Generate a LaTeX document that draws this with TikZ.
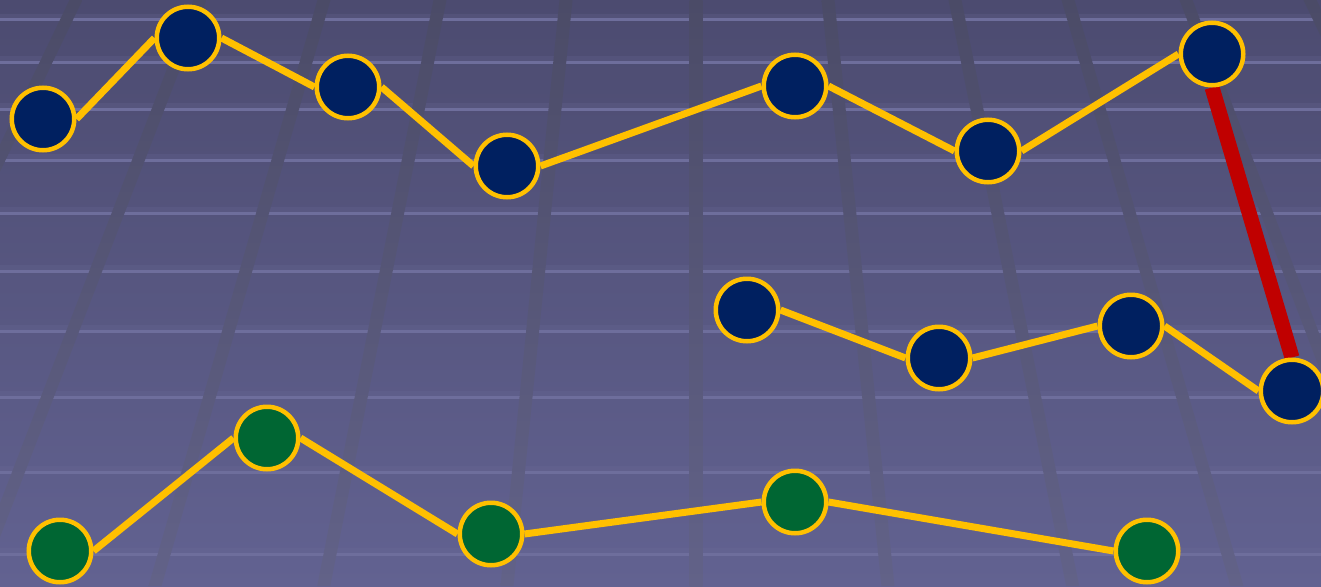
\documentclass[tikz,border=0pt]{standalone}
\usetikzlibrary{calc}
\pgfdeclarelayer{bg}
\pgfdeclarelayer{edges}
\pgfsetlayers{bg,edges,main}
\definecolor{bgT}{RGB}{76,75,112}
\definecolor{bgB}{RGB}{98,98,145}
\definecolor{diagT}{RGB}{75,75,103}
\definecolor{diagB}{RGB}{98,98,136}
\definecolor{hline}{RGB}{110,110,156}
\definecolor{dotblue}{RGB}{0,32,96}
\definecolor{dotgreen}{RGB}{0,102,51}
\definecolor{linkyellow}{RGB}{255,192,0}
\definecolor{linkred}{RGB}{192,0,0}
\tikzset{
  dotb/.style={circle, draw=linkyellow, line width=4.5pt, fill=dotblue, minimum size=62.5pt, inner sep=0pt},
  dotg/.style={circle, draw=linkyellow, line width=4.5pt, fill=dotgreen, minimum size=62.5pt, inner sep=0pt},
  ylink/.style={draw=linkyellow, line width=7pt},
  rlink/.style={draw=linkred, line width=15pt},
  gridh/.style={draw=hline, line width=3pt},
}
\begin{document}
\begin{tikzpicture}[x=1pt,y=-1pt]
\useasboundingbox (0,0) rectangle (1321,586);
\begin{pgfonlayer}{bg}
  \shade[top color=bgT, bottom color=bgB] (0,0) rectangle (1321,586);
  \foreach \yy in {20,62,109,160,213,271,331,397,472,554} {
    \fill[hline, opacity=0.2] (0,\yy-6) rectangle (1321,\yy);
    \draw[gridh] (0,\yy) -- (1321,\yy);
  }
  \foreach \o in {-744,-620,-496,-372,-256,-130,0,132,259,372,490,614} {
    \pgfmathsetmacro\xa{696+\o}
    \pgfmathsetmacro\xb{696+\o*1.45426}
    \shade[top color=diagT, bottom color=diagB]
      (\xa-6.5,0) -- (\xa+6.5,0) -- (\xb+6.5,586) -- (\xb-6.5,586) -- cycle;
  }
\end{pgfonlayer}

\node[dotb] (t1) at (43,119) {};
\node[dotb] (t2) at (188,38) {};
\node[dotb] (t3) at (348,87) {};
\node[dotb] (t4) at (507,166) {};
\node[dotb] (t5) at (795,86) {};
\node[dotb] (t6) at (988,151) {};
\node[dotb] (t7) at (1212,54) {};

\node[dotb] (m1) at (747,310) {};
\node[dotb] (m2) at (939,358) {};
\node[dotb] (m3) at (1131,326) {};
\node[dotb] (m4) at (1292,391) {};

\node[dotg] (g1) at (60,551) {};
\node[dotg] (g2) at (267,438) {};
\node[dotg] (g3) at (491,534) {};
\node[dotg] (g4) at (795,502) {};
\node[dotg] (g5) at (1147,551) {};

\begin{pgfonlayer}{edges}
  \foreach \a/\b in {t1/t2,t2/t3,t3/t4,t4/t5,t5/t6,t6/t7,m1/m2,m2/m3,m3/m4,g1/g2,g2/g3,g3/g4,g4/g5}
    \draw[ylink] (\a.east) -- (\b.west);
  \draw[rlink] (t7.south) -- (m4.north);
\end{pgfonlayer}
\end{tikzpicture}
\end{document}
